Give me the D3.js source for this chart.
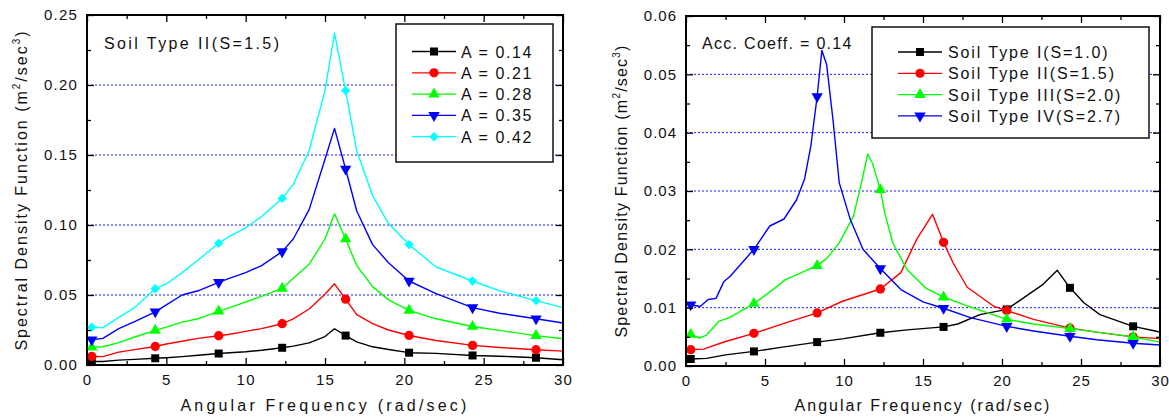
<!DOCTYPE html>
<html>
<head>
<meta charset="utf-8">
<script src="https://cdn.jsdelivr.net/npm/d3@7"></script>
<style>
  html, body { margin: 0; padding: 0; background: #fff; }
  svg { display: block; font-family: "Liberation Sans", Arial, sans-serif; }
</style>
</head>
<body>
<svg id="chart" width="1169" height="420"></svg>
<script>
// ── DATA ─────────────────────────────────────────────────────
// marker positions (rad/sec), same for every curve
const markFreq = [0.3, 4.3, 8.3, 12.3, 16.3, 20.3, 24.3, 28.3];

// left panel: Soil Type II, different acceleration coefficients
const freqA = [0.3, 1, 2, 3, 4.3, 5, 6, 7, 8.3, 9, 10, 11, 12.3, 13, 14, 15, 15.6,
               16.3, 17, 18, 19, 20.3, 22, 24.3, 26, 28.3, 30];
const psdA014 = [0.0025, 0.0025, 0.0035, 0.0040, 0.0048, 0.0052, 0.0060, 0.0070, 0.0082, 0.0088,
                 0.0095, 0.0105, 0.0123, 0.0135, 0.0158, 0.0203, 0.0259, 0.0210, 0.0165, 0.0130,
                 0.0111, 0.0088, 0.0083, 0.0068, 0.0063, 0.0052, 0.0037];
const psdA021 = [0.0061, 0.0060, 0.0092, 0.0110, 0.0132, 0.0150, 0.0170, 0.0190, 0.0209, 0.0220,
                 0.0240, 0.0260, 0.0295, 0.0330, 0.0400, 0.0505, 0.0580, 0.0470, 0.0360, 0.0295,
                 0.0250, 0.0211, 0.0175, 0.0140, 0.0125, 0.0109, 0.0099];
const psdA028 = [0.0127, 0.0130, 0.0160, 0.0200, 0.0247, 0.0270, 0.0306, 0.0330, 0.0385, 0.0410,
                 0.0450, 0.0490, 0.0547, 0.0620, 0.0720, 0.0900, 0.1080, 0.0900, 0.0710, 0.0560,
                 0.0465, 0.0390, 0.0330, 0.0275, 0.0247, 0.0210, 0.0187];
const psdA035 = [0.0180, 0.0190, 0.0260, 0.0310, 0.0380, 0.0430, 0.0500, 0.0530, 0.0590, 0.0620,
                 0.0660, 0.0710, 0.0810, 0.0900, 0.1110, 0.1470, 0.1690, 0.1400, 0.1100, 0.0860,
                 0.0730, 0.0600, 0.0510, 0.0410, 0.0370, 0.0330, 0.0300];
const psdA042 = [0.0270, 0.0265, 0.0340, 0.0410, 0.0545, 0.0580, 0.0660, 0.0750, 0.0870, 0.0920,
                 0.0980, 0.1060, 0.1190, 0.1290, 0.1530, 0.1960, 0.2370, 0.1960, 0.1530, 0.1210,
                 0.1010, 0.0860, 0.0700, 0.0600, 0.0530, 0.0460, 0.0410];
const labelsA = ['A = 0.14', 'A = 0.21', 'A = 0.28', 'A = 0.35', 'A = 0.42'];

// right panel: acceleration coefficient 0.14, different soil types
const freqS1 = [0.3, 1.3, 2.5, 4.3, 6, 8.3, 10, 12.3, 14, 16.3, 17.2, 18.6, 20.3, 21.8, 22.6,
                23.5, 24.3, 25.2, 26.2, 28.3, 29.7, 30];
const psdS1  = [0.0012, 0.0013, 0.0019, 0.0025, 0.0032, 0.0041, 0.0047, 0.0057, 0.0062, 0.0067,
                0.0072, 0.0088, 0.0097, 0.0125, 0.0140, 0.0164, 0.0134, 0.0108, 0.0088, 0.0068,
                0.0060, 0.0058];
const freqS2 = [0.3, 1.1, 2.5, 4.3, 6.3, 8.3, 9.9, 12.3, 13.6, 14.6, 15.6, 16.3, 16.9, 17.8,
                19.5, 20.3, 22, 24.3, 26, 28.3, 30];
const psdS2  = [0.0028, 0.0029, 0.0042, 0.0056, 0.0074, 0.0091, 0.0111, 0.0132, 0.0160, 0.0217,
                0.0260, 0.0212, 0.0177, 0.0135, 0.0102, 0.0095, 0.0080, 0.0065, 0.0058, 0.0050,
                0.0047];
const freqS3 = [0.3, 0.85, 1.3, 2.1, 2.75, 4.3, 5.5, 6.3, 8.3, 8.9, 9.7, 10.6, 11.1, 11.5, 11.8,
                12.3, 12.6, 13.1, 14, 15.2, 16.3, 17.8, 20.3, 22, 24.3, 26, 28.3, 30];
const psdS3  = [0.0054, 0.0048, 0.0053, 0.0077, 0.0083, 0.0107, 0.0131, 0.0148, 0.0172, 0.0184,
                0.0211, 0.0257, 0.0314, 0.0363, 0.0348, 0.0302, 0.0260, 0.0210, 0.0165, 0.0133,
                0.0118, 0.0103, 0.0080, 0.0072, 0.0064, 0.0058, 0.0050, 0.0041];
const freqS4 = [0.3, 0.9, 1.4, 1.9, 2.4, 2.8, 4.3, 5.3, 6.2, 7, 7.5, 7.9, 8.3, 8.6, 8.9, 9.3,
                9.7, 10.4, 11.2, 12.3, 13.6, 15, 16.3, 18, 20.3, 22, 24.3, 26, 28.3, 30];
const psdS4  = [0.0105, 0.0102, 0.0114, 0.0116, 0.0145, 0.0154, 0.0200, 0.0240, 0.0252, 0.0285,
                0.0320, 0.0377, 0.0462, 0.0541, 0.0517, 0.0423, 0.0314, 0.0251, 0.0200, 0.0167,
                0.0131, 0.0110, 0.0099, 0.0083, 0.0068, 0.0060, 0.0051, 0.0045, 0.0039, 0.0036];
const labelsS = ['Soil Type I(S=1.0)', 'Soil Type II(S=1.5)', 'Soil Type III(S=2.0)', 'Soil Type IV(S=2.7)'];

const xTicks = [0, 5, 10, 15, 20, 25, 30];
const yTicksA = [0, 0.05, 0.10, 0.15, 0.20, 0.25];
const yTicksS = [0, 0.01, 0.02, 0.03, 0.04, 0.05, 0.06];

// ── STYLE ────────────────────────────────────────────────────
const COLORS = ['#000000', '#ff0000', '#00ff00', '#0000ff', '#00ffff'];
const SYMBOLS = ['square', 'circle', 'triangle', 'triangleDown', 'diamond'];

const svg = d3.select('#chart');

function markerPath(kind) {
  if (kind === 'square') return d3.symbol(d3.symbolSquare, 64)();
  if (kind === 'circle') return d3.symbol(d3.symbolCircle, 68)();
  if (kind === 'diamond') return d3.symbol(d3.symbolSquare, 44)();
  return d3.symbol(d3.symbolTriangle, 56)();
}
function markerRot(kind) {
  if (kind === 'triangleDown') return ' rotate(180)';
  if (kind === 'diamond') return ' rotate(45)';
  return '';
}

function drawPanel(p) {
  const x = d3.scaleLinear().domain([0, 30]).range([p.left, p.right]);
  const y = d3.scaleLinear().domain([0, p.yMax]).range([p.bottom, p.top]);
  const g = svg.append('g');

  // dotted blue grid at major y ticks
  g.selectAll('line.grid')
    .data(p.yTicks.filter(v => v > 0 && v < p.yMax - 1e-9))
    .join('line')
    .attr('x1', p.left).attr('x2', p.right)
    .attr('y1', d => y(d)).attr('y2', d => y(d))
    .attr('stroke', '#1a1aff').attr('stroke-width', 1)
    .attr('stroke-dasharray', '2,2');

  // curves
  const line = d3.line().x(d => x(d[0])).y(d => y(d[1]));
  p.series.forEach((s, i) => {
    const pts = s.freq.map((f, j) => [f, s.psd[j]]);
    g.append('path')
      .datum(pts)
      .attr('d', line)
      .attr('fill', 'none')
      .attr('stroke', COLORS[i])
      .attr('stroke-width', 1.4)
      .attr('stroke-linejoin', 'round');
    g.selectAll(null)
      .data(pts.filter(d => markFreq.includes(d[0])))
      .join('path')
      .attr('d', markerPath(SYMBOLS[i]))
      .attr('transform', d => `translate(${x(d[0])},${y(d[1])})` + markerRot(SYMBOLS[i]))
      .attr('fill', COLORS[i]);
  });

  // axes, ticks pointing inward
  const fmt = d3.format('.2f');
  const minorX = d3.range(2.5, 30, 5);
  const minorY = p.yTicks.slice(1).map(v => v - p.yStep / 2);

  const axisStyle = sel => {
    sel.select('.domain').remove();
    sel.selectAll('.tick line').attr('stroke', '#000').attr('stroke-width', 1.3);
    sel.selectAll('.tick text')
      .attr('font-size', 15).attr('fill', '#111')
      .attr('font-family', '"Liberation Sans", Arial, sans-serif')
      .style('letter-spacing', p.tickSpacing + 'px');
  };

  g.append('g').attr('transform', `translate(0,${p.bottom})`)
    .call(d3.axisBottom(x).tickValues(xTicks).tickSize(-7).tickPadding(9).tickFormat(d3.format('d')))
    .call(axisStyle);
  g.append('g').attr('transform', `translate(0,${p.bottom})`)
    .call(d3.axisBottom(x).tickValues(minorX).tickSize(-4).tickFormat(''))
    .call(axisStyle);
  g.append('g').attr('transform', `translate(0,${p.top})`)
    .call(d3.axisTop(x).tickValues(xTicks).tickSize(-7).tickFormat(''))
    .call(axisStyle);
  g.append('g').attr('transform', `translate(0,${p.top})`)
    .call(d3.axisTop(x).tickValues(minorX).tickSize(-4).tickFormat(''))
    .call(axisStyle);
  g.append('g').attr('transform', `translate(${p.left},0)`)
    .call(d3.axisLeft(y).tickValues(p.yTicks).tickSize(-7).tickPadding(9).tickFormat(fmt))
    .call(axisStyle);
  g.append('g').attr('transform', `translate(${p.left},0)`)
    .call(d3.axisLeft(y).tickValues(minorY).tickSize(-4).tickFormat(''))
    .call(axisStyle);
  g.append('g').attr('transform', `translate(${p.right},0)`)
    .call(d3.axisRight(y).tickValues(p.yTicks).tickSize(-7).tickFormat(''))
    .call(axisStyle);
  g.append('g').attr('transform', `translate(${p.right},0)`)
    .call(d3.axisRight(y).tickValues(minorY).tickSize(-4).tickFormat(''))
    .call(axisStyle);

  // frame
  g.append('rect')
    .attr('x', p.left).attr('y', p.top)
    .attr('width', p.right - p.left).attr('height', p.bottom - p.top)
    .attr('fill', 'none').attr('stroke', '#000').attr('stroke-width', 2);

  // axis titles
  g.append('text')
    .attr('x', (p.left + p.right) / 2).attr('y', 411)
    .attr('text-anchor', 'middle').attr('font-size', 16).attr('fill', '#111')
    .style('letter-spacing', p.titleSpacing + 'px')
    .text('Angular Frequency (rad/sec)');

  const yt = g.append('text')
    .attr('transform', `translate(${p.yTitleX},${(p.top + p.bottom) / 2}) rotate(-90)`)
    .attr('text-anchor', 'middle').attr('font-size', 16).attr('fill', '#111')
    .style('letter-spacing', p.yTitleSpacing + 'px');
  yt.append('tspan').text('Spectral Density Function (m');
  yt.append('tspan').attr('font-size', 10).attr('dy', -7).text('2');
  yt.append('tspan').attr('dy', 7).text('/sec');
  yt.append('tspan').attr('font-size', 10).attr('dy', -7).text('3');
  yt.append('tspan').attr('dy', 7).text(')');

  // annotation
  g.append('text')
    .attr('x', p.noteX).attr('y', 49)
    .attr('font-size', 16).attr('fill', '#111')
    .style('letter-spacing', p.noteSpacing + 'px')
    .text(p.note);

  // legend
  const lg = p.legend;
  g.append('rect')
    .attr('x', lg.x).attr('y', lg.y).attr('width', lg.w).attr('height', lg.h)
    .attr('fill', '#fff').attr('stroke', '#111').attr('stroke-width', 1.5);
  p.series.forEach((s, i) => {
    const ly = lg.firstY + i * lg.step;
    g.append('line')
      .attr('x1', lg.lineX).attr('x2', lg.lineX + 44)
      .attr('y1', ly).attr('y2', ly)
      .attr('stroke', COLORS[i]).attr('stroke-width', 1.3);
    g.append('path')
      .attr('d', markerPath(SYMBOLS[i]))
      .attr('transform', `translate(${lg.lineX + 22},${ly})` + markerRot(SYMBOLS[i]))
      .attr('fill', COLORS[i]);
    g.append('text')
      .attr('x', lg.textX).attr('y', ly + 6)
      .attr('font-size', 16).attr('fill', '#111')
      .style('letter-spacing', lg.spacing + 'px')
      .text(s.label);
  });
}

drawPanel({
  left: 87, right: 563, top: 15, bottom: 365,
  yMax: 0.25, yTicks: yTicksA, yStep: 0.05,
  tickSpacing: 1.2, titleSpacing: 3.2, yTitleSpacing: 2.0, yTitleX: 27,
  note: 'Soil Type II(S=1.5)', noteX: 104, noteSpacing: 2.4,
  legend: { x: 396, y: 24, w: 157, h: 138, firstY: 51.5, step: 21.3, lineX: 412, textX: 461, spacing: 1.6 },
  series: [
    { freq: freqA, psd: psdA014, label: labelsA[0] },
    { freq: freqA, psd: psdA021, label: labelsA[1] },
    { freq: freqA, psd: psdA028, label: labelsA[2] },
    { freq: freqA, psd: psdA035, label: labelsA[3] },
    { freq: freqA, psd: psdA042, label: labelsA[4] }
  ]
});

drawPanel({
  left: 686, right: 1160, top: 16, bottom: 366,
  yMax: 0.06, yTicks: yTicksS, yStep: 0.01,
  tickSpacing: 1.0, titleSpacing: 2.0, yTitleSpacing: 1.2, yTitleX: 627,
  note: 'Acc. Coeff. = 0.14', noteX: 702, noteSpacing: 1.3,
  legend: { x: 872, y: 27, w: 277, h: 111, firstY: 52, step: 21.3, lineX: 898, textX: 948, spacing: 1.9 },
  series: [
    { freq: freqS1, psd: psdS1, label: labelsS[0] },
    { freq: freqS2, psd: psdS2, label: labelsS[1] },
    { freq: freqS3, psd: psdS3, label: labelsS[2] },
    { freq: freqS4, psd: psdS4, label: labelsS[3] }
  ]
});
</script>
</body>
</html>
